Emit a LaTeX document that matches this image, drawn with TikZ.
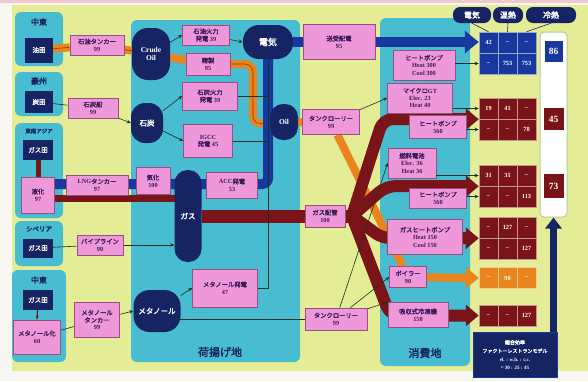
\documentclass[tikz,border=0pt]{standalone}
\usepackage{fontspec}
\setmainfont{Liberation Serif}
\newfontfamily\jp{Noto Sans CJK JP}[AutoFakeBold=2]
\usetikzlibrary{arrows.meta,calc}
\pgfdeclarelayer{bg}
\pgfdeclarelayer{flow}
\pgfsetlayers{bg,flow,main}
\definecolor{pagec}{RGB}{247,246,240}
\definecolor{topline}{RGB}{240,200,205}
\definecolor{yel}{RGB}{228,237,150}
\definecolor{cya}{RGB}{72,188,208}
\definecolor{navy}{RGB}{22,36,100}
\definecolor{pnk}{RGB}{238,152,218}
\definecolor{pbd}{RGB}{150,80,130}
\definecolor{ptx}{RGB}{60,28,90}
\definecolor{dred}{RGB}{122,20,24}
\definecolor{orng}{RGB}{234,132,28}
\definecolor{dkor}{RGB}{140,60,10}
\definecolor{bblue}{RGB}{24,56,160}
\definecolor{thinc}{RGB}{25,50,30}
\definecolor{totb}{RGB}{185,200,150}
\newcommand{\mxrow}[6]{%
 \node[cell=#3] (#1a) at (488.5,#2) {#4};
 \node[cell=#3] (#1b) at (507.5,#2) {#5};
 \node[cell=#3] (#1c) at (526.5,#2) {#6};}
\begin{document}
\begin{tikzpicture}[x=1pt,y=-1pt,
 region/.style={fill=cya, rounded corners=6pt},
 rlabel/.style={text=navy, font=\jp\bfseries\fontsize{8}{9}\selectfont},
 srcbox/.style={fill=navy, text=white, font=\jp\bfseries\fontsize{6.5}{7.5}\selectfont, inner sep=0pt},
 pbox/.style={fill=pnk, draw=pbd, line width=0.6pt, text=ptx, font=\bfseries\fontsize{6.3}{7.4}\selectfont, align=center, inner sep=0pt},
 hub/.style={fill=navy, text=white, inner sep=0pt, align=center, font=\bfseries\fontsize{7.5}{8.5}\selectfont},
 sz/.style 2 args={minimum width=#1pt, minimum height=#2pt},
 cell/.style={minimum width=19pt, minimum height=21pt, inner sep=0pt, draw=white!55!#1, line width=0.5pt, fill=#1, text=white, font=\bfseries\fontsize{6.3}{7}\selectfont},
 hdr/.style={fill=navy, text=white, rounded corners=7pt, inner sep=0pt, minimum height=16pt, font=\jp\bfseries\fontsize{8}{9}\selectfont},
 big/.style={text=white, inner sep=0pt, font=\bfseries\fontsize{9.5}{10}\selectfont},
 orb/.style={draw=orng, line width=8pt},
 orline/.style={draw=dkor, line width=0.6pt},
 bband/.style={draw=bblue, line width=10pt},
 rband/.style={draw=dred, line width=#1},
 thinln/.style={draw=thinc, line width=0.6pt},
 thinar/.style={thinln, -{Stealth[length=4pt,width=3.5pt]}},
 bigtip/.style={-{Triangle[width=21pt,length=13pt]}}
]
\useasboundingbox (0,0) rectangle (588,381);
\begin{pgfonlayer}{bg}
\fill[pagec] (0,0) rectangle (588,381);
\fill[topline] (0,0) rectangle (588,3);
\fill[yel] (12,5) rectangle (588,371);
\fill[region] (15,12) rectangle (63,66);
\fill[region] (15,72) rectangle (63,116);
\fill[region] (15,123) rectangle (63,218);
\fill[region] (15,221) rectangle (63,266);
\fill[region] (12,270) rectangle (66,362);
\fill[region] (131,20) rectangle (300,362);
\fill[region] (380,18) rectangle (470,366);
\end{pgfonlayer}

% region labels
\node[rlabel] (l1) at (39,22) {中東};
\node[rlabel] (l2) at (39,81) {豪州};
\node[rlabel, font=\jp\bfseries\fontsize{5.5}{6}\selectfont] (l3) at (39,131) {東南アジア};
\node[rlabel, font=\jp\bfseries\fontsize{6.5}{7}\selectfont] (l4) at (39,229) {シベリア};
\node[rlabel] (l5) at (39,280) {中東};
\node[rlabel, font=\jp\bfseries\fontsize{11}{12}\selectfont] (l6) at (220,352) {荷揚げ地};
\node[rlabel, font=\jp\bfseries\fontsize{11}{12}\selectfont] (l7) at (425,353) {消費地};

% sources
\node[srcbox, sz={28}{25}] (oilf) at (39,50) {油田};
\node[srcbox, sz={28}{22}] (coalf) at (39,102) {炭田};
\node[srcbox, sz={30}{20}] (sgas) at (38,150) {ガス田};
\node[pbox, sz={33}{36}] (liq) at (38,195) {{\jp 液化}\\97};
\node[srcbox, sz={30}{19}] (sibgas) at (38,248) {ガス田};
\node[srcbox, sz={30}{20}] (megas) at (38,300) {ガス田};
\node[pbox, sz={47}{34}] (methz) at (37,337) {{\jp メタノール化}\\60};

% carriers
\node[pbox, sz={54}{20}] (tanker1) at (97,45) {{\jp 石油タンカー}\\99};
\node[pbox, sz={50}{20}] (coalship) at (93,108) {{\jp 石炭船}\\99};
\node[pbox, sz={62}{20}] (lngt) at (97,185) {LNG{\jp タンカー}\\97};
\node[pbox, sz={46}{20}] (pipe) at (100,245) {{\jp パイプライン}\\90};
\node[pbox, sz={45}{35}] (mtanker) at (97,320) {{\jp メタノール}\\{\jp タンカー}\\99};

% unloading site
\node[hub, sz={38}{52}, rounded corners=16pt] (crude) at (151,54) {Crude\\Oil};
\node[hub, sz={32}{40}, rounded corners=14pt] (coal) at (147,123) {{\jp 石炭}};
\node[hub, sz={27}{92}, rounded corners=13pt] (gas) at (188,216) {{\jp ガス}};
\node[hub, sz={47}{42}, rounded corners=16pt] (meth) at (157,311) {{\jp メタノール}};
\node[hub, sz={50}{34}, rounded corners=16pt, font=\jp\bfseries\fontsize{9}{10}\selectfont] (elec) at (268,42) {電気};
\node[hub, sz={28}{36}, rounded corners=13pt] (oil) at (284,122) {Oil};

\node[pbox, sz={47}{20}] (oilfire) at (206,35) {{\jp 石油火力}\\{\jp 発電} 39};
\node[pbox, sz={44}{22}] (refine) at (208,64) {{\jp 精製}\\95};
\node[pbox, sz={55}{28}] (coalfire) at (210,96) {{\jp 石炭火力}\\{\jp 発電} 39};
\node[pbox, sz={49}{33}] (igcc) at (208,141) {IGCC\\{\jp 発電} 45};
\node[pbox, sz={34}{27}] (gasif) at (153,181) {{\jp 気化}\\100};
\node[pbox, sz={51}{26}] (acc) at (232,185) {ACC{\jp 発電}\\53};
\node[pbox, sz={65}{38}] (mfire) at (225,288) {{\jp メタノール発電}\\47};

% middle column
\node[pbox, sz={72}{35}] (grid) at (339,42) {{\jp 送受配電}\\95};
\node[pbox, sz={57}{25}] (lorry1) at (331,122) {{\jp タンクローリー}\\99};
\node[pbox, sz={40}{22}] (gpipe) at (325,216) {{\jp ガス配管}\\100};
\node[pbox, sz={62}{22}] (lorry2) at (336,319) {{\jp タンクローリー}\\99};

% consumers
\node[pbox, sz={62}{30}] (hp1) at (424,65) {{\jp ヒートポンプ}\\Heat 300\\Cool 300};
\node[pbox, sz={65}{30}] (mgt) at (420,98) {{\jp マイクロ}GT\\Elec. 23\\Heat 40};
\node[pbox, sz={57}{23}] (hp2) at (438,127) {{\jp ヒートポンプ}\\560};
\node[pbox, sz={48}{30}] (fc) at (412,163) {{\jp 燃料電池}\\Elec. 36\\Heat 36};
\node[pbox, sz={57}{20}] (hp3) at (438,198) {{\jp ヒートポンプ}\\560};
\node[pbox, sz={75}{35}] (ghp) at (425,237) {{\jp ガスヒートポンプ}\\Heat 150\\Cool 150};
\node[pbox, sz={37}{21}] (boil) at (408,277) {{\jp ボイラー}\\90};
\node[pbox, sz={60}{25}] (absr) at (418,315) {{\jp 吸収式冷凍機}\\150};

% output matrices
\node[hdr, minimum width=38pt] (hel) at (472,15) {電気};
\node[hdr, minimum width=30pt] (hon) at (508,15) {温熱};
\node[hdr, minimum width=50pt] (hrei) at (551,15) {冷熱};
\mxrow{m1t}{42.5}{bblue}{42}{--}{--}
\mxrow{m1u}{63.5}{bblue}{--}{753}{753}
\mxrow{m2t}{108.5}{dred}{19}{41}{--}
\mxrow{m2u}{129.5}{dred}{--}{--}{78}
\mxrow{m3t}{175.5}{dred}{31}{31}{--}
\mxrow{m3u}{196.5}{dred}{--}{--}{113}
\mxrow{m4t}{227.5}{dred}{--}{127}{--}
\mxrow{m4u}{248.5}{dred}{--}{--}{127}
\mxrow{m5t}{278}{orng}{--}{90}{--}
\mxrow{m6t}{315.5}{dred}{--}{--}{127}
\draw[navy, line width=0.6pt] (hel.south) -- (m1ta.north);
\draw[navy, line width=0.6pt] (hon.south) -- (m1tb.north);
\draw[navy, line width=0.6pt] (hrei.south) -- (m1tc.north);

\node[fill=white, draw=totb, line width=1pt, rounded corners=4pt, sz={27}{185}] (tot) at (553.5,124.5) {};
\node[big, fill=bblue, sz={18}{21}] (n86) at (553.5,51) {86};
\node[big, fill=dred, sz={20}{22}] (n45) at (553.5,119) {45};
\node[big, fill=dred, sz={20}{24}] (n73) at (553.5,186) {73};
\node[fill=navy, draw=bblue, line width=0.8pt, text=white, align=center, inner sep=0pt, sz={84}{45}, font=\bfseries\fontsize{5}{8.5}\selectfont] (eff) at (515,355) {{\jp 総合効率}\\{\jp ファクトーレストランモデル}\\el. : w.h. : c.c.\\= 30 : 25 : 45};
\draw[navy, line width=7pt, -{Triangle[width=16pt,length=11pt]}] (tot.south |- eff.north) -- (tot.south);

% thin arrows to matrices
\draw[thinar] (hp1.east |- m1ua.west) -- (m1ua.west);
\draw[thinar] (mgt.east |- m2ta.west) -- (m2ta.west);
\draw[thinar] (hp2.east |- m2ua.west) -- (m2ua.west);
\draw[thinar] (fc.east |- m3ta.west) -- (m3ta.west);
\draw[thinar] (hp3.east |- m3ua.west) -- (m3ua.west);

\coordinate (obend) at (253,124);
\coordinate (lngB) at (40,184);
\coordinate (lngR) at (40,198);
\coordinate (fan) at (352,216);
\coordinate (f2) at (383,119);
\coordinate (f3) at (386,186);
\coordinate (f4) at (382,238);
\coordinate (f6) at (390,315.5);

\begin{pgfonlayer}{flow}
% oil chain
\draw[orb] (oilf) -- (tanker1) -- (crude);
\draw[orb] (crude) -- (refine);
\draw[orb, rounded corners=8pt] (refine) -- (refine -| obend) -- (obend) -- (oil);
\draw[orb] (oil) -- (lorry1);
\draw[orb] (lorry1) -- (boil);
\draw[orb, bigtip] (boil) -- (m5ta.west);
\draw[orline] (oilf) -- (tanker1) -- (crude);
\draw[orline, rounded corners=8pt] (refine) -- (refine -| obend) -- (obend) -- (oil);
% electricity
\draw[bband] (elec) -- (grid);
\draw[bband, -{Triangle[width=22pt,length=14pt]}] (grid) -- (grid -| m1ta.west);
\draw[bband, rounded corners=6pt] (lngB) -- (lngB -| elec) -- (elec);
% gas
\draw[rband=5pt] (sgas) -- (liq);
\draw[rband=7pt] (lngR) -- (lngR -| gas.center);
\draw[rband=13pt] (gas) -- (gpipe) -- (fan);
\draw[rband=12pt, rounded corners=10pt, bigtip] (fan) -- (f2) -- (m2ta.south west);
\draw[rband=12pt, rounded corners=10pt, bigtip] (fan) -- (f3) -- (m3ta.south west);
\draw[rband=12pt, rounded corners=8pt, bigtip] (fan) -- (f4) -- (m4ta.south west);
\draw[rband=12pt, rounded corners=10pt, bigtip] (fan) -- (f6) -- (m6ta.west);
% thin connectors
\draw[thinln] (coalf) -- (coalship);
\draw[thinar] (coalship) -- (coal.west);
\draw[thinar] (crude) -- (oilfire.west);
\draw[thinar] (oilfire) -- (elec.west);
\draw[thinar] (coal) -- (coalfire.west);
\draw[thinar] (coal) -- (igcc.west);
\draw[thinln] (coalfire) -- (coalfire -| elec);
\draw[thinln] (igcc) -- (igcc -| elec);
\draw[thinln] (mfire) -| (elec);
\draw[thinln] (sibgas) -- (pipe);
\draw[thinar] (pipe) -- (pipe -| gas.west);
\draw[dred, line width=1.2pt, -{Stealth[length=4pt]}] (megas) -- (methz.north);
\draw[thinln] (methz) -- (mtanker);
\draw[thinar] (mtanker) -- (meth.west);
\draw[thinar] (meth) -- (mfire.west);
\draw[thinln] (lorry2) -- (lorry2 -| meth);
\draw[thinar] (lorry1) -- (mgt.west);
\draw[thinar] (lorry2) -- (absr.north west);
\draw[thinar] (lorry2) -- (boil.west);
\draw[thinar] (lorry2) -- (fc.west);
\end{pgfonlayer}
\end{tikzpicture}
\end{document}
